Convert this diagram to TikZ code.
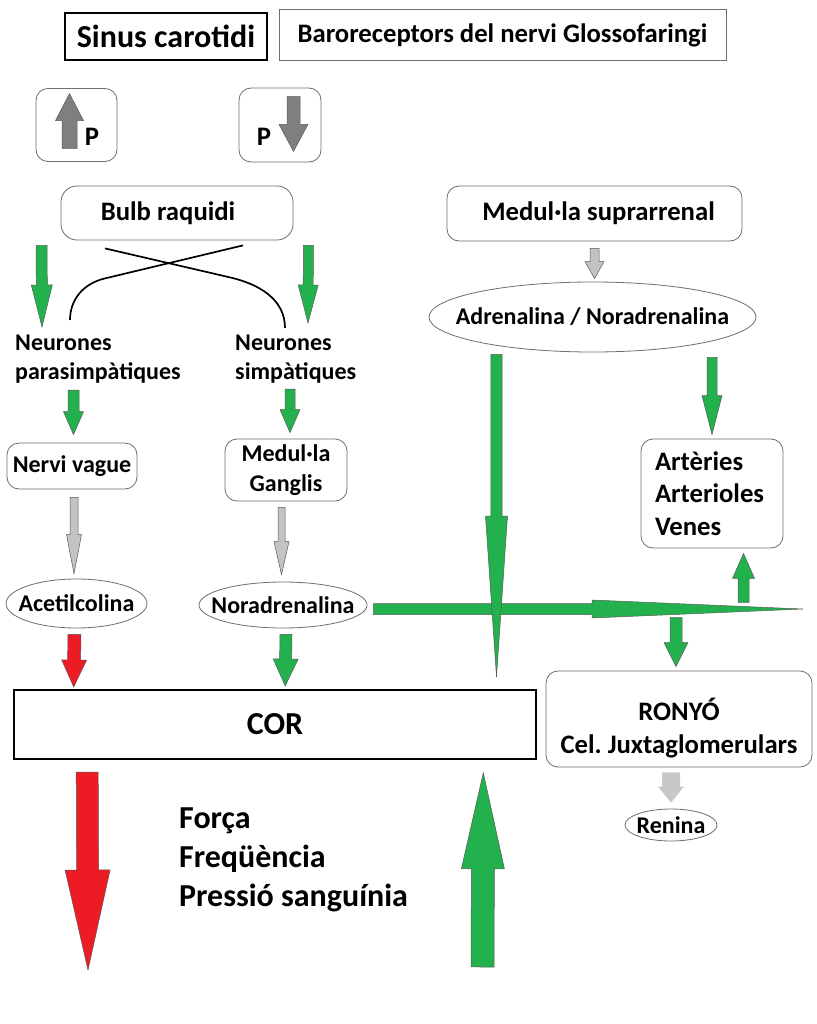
\documentclass[tikz,border=0pt]{standalone}
\usepackage{fontspec}
\setmainfont{Carlito}
\usepackage{tikz}
\usetikzlibrary{positioning,calc,shapes.geometric}
\definecolor{PumpGreen}{HTML}{22B14C}
\definecolor{PumpRed}{HTML}{ED1C24}
\definecolor{PumpSilver}{HTML}{C3C3C3}
\definecolor{PumpPale}{HTML}{C8C8C8}
\definecolor{PumpDark}{HTML}{7F7F7F}
\definecolor{PumpEdge}{HTML}{5A5A5A}
\definecolor{PumpLine}{HTML}{6E6E6E}
\frenchspacing
\newcommand{\fbig}{\fontsize{32}{39}\selectfont\bfseries}
\newcommand{\fmid}{\fontsize{26.7}{32.5}\selectfont\bfseries}
\newcommand{\fsml}{\fontsize{24}{29.3}\selectfont\bfseries}
\tikzset{
  blk/.style n args={3}{to path={let \p1=(\tikztostart), \p2=(\tikztotarget),
      \n1={atan2(\y2-\y1,\x2-\x1)}, \n2={veclen(\x2-\x1,\y2-\y1)} in
    {[shift={(\p1)},rotate=\n1] (0pt,#1pt) -- ({\n2*1pt-#3pt},#1pt) -- ({\n2*1pt-#3pt},#2pt)
      -- ({\n2*1pt},0pt) -- ({\n2*1pt-#3pt},-#2pt) -- ({\n2*1pt-#3pt},-#1pt) -- (0pt,-#1pt) -- cycle}}},
  arrG/.style n args={3}{blk={#1}{#2}{#3},fill=PumpGreen,draw=PumpEdge,line width=0.5pt},
  arrR/.style n args={3}{blk={#1}{#2}{#3},fill=PumpRed,draw=PumpEdge,line width=0.5pt},
  arrS/.style n args={3}{blk={#1}{#2}{#3},fill=PumpSilver,draw=PumpEdge,line width=0.5pt},
  arrD/.style n args={3}{blk={#1}{#2}{#3},fill=PumpDark,draw=PumpEdge,line width=0.5pt},
  arrP/.style n args={3}{blk={#1}{#2}{#3},fill=PumpPale,draw=none},
  rbox/.style={draw=PumpLine,fill=white,rounded corners=12pt,align=center,inner sep=0pt,line width=0.8pt},
  oval/.style={ellipse,draw=PumpLine,fill=white,inner ysep=0pt,inner xsep=-40pt,line width=0.8pt,align=center},
  plain/.style={inner sep=0pt,align=left},
  xline/.style={draw=black,line width=1.7pt}
}
\begin{document}
\begin{tikzpicture}[x=1pt,y=-1pt]
  \useasboundingbox[fill=white] (0,0) rectangle (816,1024);
  \node[draw=black,line width=2.6pt,minimum width=202pt,minimum height=47pt,inner sep=0pt,font=\fbig] (sinus) at (166,36.5) {Sinus carotidi};
  \node[draw=PumpLine,line width=0.8pt,minimum width=447pt,minimum height=51pt,inner sep=0pt,font=\fmid] (baro) at (502.5,35) {Baroreceptors del nervi Glossofaringi};
  \node[rbox,minimum width=81pt,minimum height=73pt] (pup) at (76.5,125) {};
  \node[font=\fmid,inner sep=0pt] (puplbl) at (92,137) {P};
  \node[rbox,minimum width=82pt,minimum height=74pt] (pdn) at (280,125) {};
  \node[font=\fmid,inner sep=0pt] (pdnlbl) at (264,137) {P};
  \node[rbox,rounded corners=16pt,minimum width=232pt,minimum height=54pt,font=\fmid] (bulb) at (177,213) {Bulb raquidi\hspace*{18pt}};
  \node[rbox,minimum width=295pt,minimum height=55pt,font=\fmid] (supra) at (594.5,213.5) {\hspace*{8pt}Medul·la suprarrenal};
  \node[oval,minimum width=327pt,minimum height=70pt,font=\fsml] (adr) at (592.5,317) {Adrenalina / Noradrenalina};
  \node[plain,anchor=west,font=\fsml] (npara) at (15,359) {Neurones\\parasimpàtiques};
  \node[plain,anchor=west,font=\fsml] (nsimp) at (235,359) {Neurones\\simpàtiques};
  \node[rbox,minimum width=130pt,minimum height=46pt,font=\fsml] (nervi) at (72,466) {Nervi vague};
  \node[rbox,minimum width=122pt,minimum height=62pt,font=\fsml] (gang) at (286,470) {Medul·la\\Ganglis};
  \node[oval,minimum width=141pt,minimum height=49pt,font=\fsml] (acet) at (76.5,603.5) {Acetilcolina};
  \node[oval,minimum width=168pt,minimum height=46pt,font=\fsml] (nor) at (283,605) {Noradrenalina};
  \node[draw=black,line width=1.6pt,minimum width=522pt,minimum height=69.5pt,inner sep=0pt,font=\fbig] (cor) at (275,724.5) {COR};
  \node[rbox,align=left,text width=114pt,minimum width=142pt,minimum height=109pt,font=\fmid] (art) at (712,493.5) {Artèries\\Arterioles\\Venes};
  \node[rbox,minimum width=266pt,minimum height=96pt,font=\fmid] (ron) at (679,719) {\rule{0pt}{41pt}RONYÓ\\Cel. Juxtaglomerulars};
  \node[oval,minimum width=92pt,minimum height=32pt,font=\fsml] (ren) at (671,825) {Renina};
  \node[plain,anchor=west,font=\fbig] (efectes) at (179,860) {Força\\Freqüència\\Pressió sanguínia};
  \coordinate (tipH) at (803,609);
  \coordinate (tipV) at (496.5,677);
  \coordinate (downR) at (88,970);
  \coordinate (upG) at (482.5,967);

  \draw[arrD={7.5}{14}{27}] ($(pup.south)+(-7,-13.5)$) to ($(pup.north)+(-7,5.5)$);
  \draw[arrD={6.5}{14.5}{27}] ($(pdn.north)+(13.5,9)$) to ($(pdn.south)+(13.5,-11)$);
  \draw[arrG={5.5}{10.5}{42}] ($(bulb.south west)+(-19,5)$) to ($(npara.north west)+(27,-7.5)$);
  \draw[arrG={5}{10}{38}] ($(bulb.south east)+(15,5)$) to ($(nsimp.north west)+(73,-11.5)$);
  \draw[xline] ($(bulb.south)+(-72,8)$) -- ++(125,29) to[out=-13,in=90] ($(nsimp.north west)+(50,-6.5)$);
  \draw[xline] ($(bulb.south)+(66,5)$) -- ++(-138,33) to[out=193,in=90] ($(npara.north west)+(55,-14.5)$);
  \draw[arrS={4.5}{9.5}{17}] ($(supra.south)+(0,7)$) to ($(adr.north)+(2,-3)$);
  \draw[arrG={5.5}{10}{23}] ($(npara.south west)+(58.5,6.5)$) to ($(nervi.north)+(1.5,-8)$);
  \draw[arrG={5}{10}{23}] ($(nsimp.south west)+(55,5.5)$) to ($(gang.north)+(4,-6)$);
  \draw[arrS={4}{7.5}{39}] ($(nervi.south)+(2,8)$) to ($(acet.north)+(-2.5,-5)$);
  \draw[arrS={3.5}{7.5}{33}] ($(gang.south)+(-4.5,6)$) to ($(nor.north)+(-1.5,-7)$);
  \draw[arrR={6.5}{12.5}{27}] ($(acet.south)+(-2,6)$) to ($(cor.north west)+(60.5,-2)$);
  \draw[arrG={6}{12.5}{27}] ($(nor.south)+(3,6)$) to ($(cor.north west)+(272,-3)$);
  \draw[arrG={5}{10}{39}] ($(adr.south)+(119.5,5)$) to ($(art.north)+(0,-4)$);
  \draw[arrG={5.5}{9}{211}] ($(nor.east)+(6,4)$) to (tipH);
  \draw[arrG={5.7}{11}{161}] ($(adr.south)+(-96,2)$) to (tipV);
  \draw[arrG={5.5}{11}{25}] ($(art.south)+(31.5,54)$) to ($(art.south)+(31.5,5)$);
  \draw[arrG={6}{12}{24}] ($(ron.north)+(-3,-53)$) to ($(ron.north)+(-3,-4)$);
  \path[arrP={9}{13}{16}] ($(ron.south)+(-8,5)$) to ($(ren.north)+(0,-6)$);
  \draw[arrR={11}{22.5}{100}] ($(cor.south west)+(74,12)$) to (downR);
  \draw[arrG={11.5}{21.5}{96}] (upG) to ($(cor.south east)+(-53.5,12.75)$);
\end{tikzpicture}
\end{document}
